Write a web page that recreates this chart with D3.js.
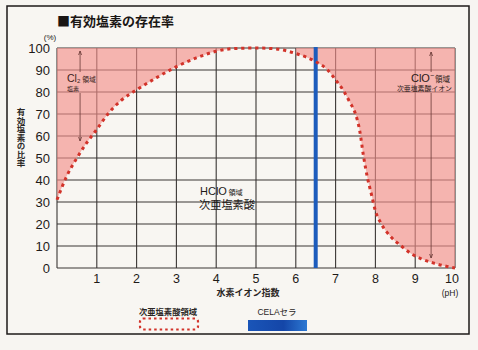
<!DOCTYPE html>
<html><head><meta charset="utf-8">
<script src="https://cdn.jsdelivr.net/npm/d3@7"></script>
<style>
html,body{margin:0;padding:0;background:#f7f5f1;}
svg{display:block;}
text{font-family:"Liberation Sans","Noto Sans CJK JP",sans-serif;}
.jp{font-family:"Noto Sans CJK JP",sans-serif;}
</style></head><body>
<div id="chart"></div>
<script>
const phValues = [0, 0.25, 0.5, 0.75, 1, 1.3, 1.6, 2, 2.5, 3, 3.5, 4, 4.5, 5, 5.5, 6, 6.5, 6.8, 7, 7.2, 7.35, 7.5, 7.6, 7.7, 7.8, 7.9, 8, 8.15, 8.4, 8.65, 8.9, 9.15, 9.45, 9.8, 10];
const hclo = [31, 42, 50, 57, 63, 70.5, 76, 81, 86.5, 91.5, 95.5, 98.5, 99.8, 100, 99.6, 97.5, 93.8, 90, 85.5, 80.5, 75.6, 70, 63, 51, 41, 33.5, 26, 20, 14, 10, 6.5, 4.2, 2.3, 0.7, 0];
const xTicks = [1, 2, 3, 4, 5, 6, 7, 8, 9, 10];
const yTicks = [0, 10, 20, 30, 40, 50, 60, 70, 80, 90, 100];
const celaPH = 6.5;
const cl2Range = [0, 4.3];
const cloRange = [6.0, 10];

const W = 478, H = 350;
const svg = d3.select("#chart").append("svg").attr("width", W).attr("height", H);

svg.append("rect").attr("x", 7).attr("y", 6).attr("width", 462).attr("height", 328)
  .attr("fill", "#f8f6f2").attr("stroke", "#1e1a18").attr("stroke-width", 1.5);

const x = d3.scaleLinear().domain([0, 10]).range([57, 455]);
const y = d3.scaleLinear().domain([0, 100]).range([268, 48]);
const data = phValues.map((p, i) => ({p, v: hclo[i]}));

// grid
const g = svg.append("g");
g.selectAll(".hg").data(yTicks).join("line")
  .attr("x1", x(0)).attr("x2", x(10)).attr("y1", d => y(d)).attr("y2", d => y(d))
  .attr("stroke", "#3a3634").attr("stroke-width", 1.1);
g.selectAll(".vg").data([0].concat(xTicks)).join("line")
  .attr("y1", y(0)).attr("y2", y(100)).attr("x1", d => x(d)).attr("x2", d => x(d))
  .attr("stroke", "#3a3634").attr("stroke-width", 1.1);

// pink regions
const defs = svg.append("defs");
defs.append("clipPath").attr("id", "clipL").append("rect")
  .attr("x", x(cl2Range[0])).attr("y", y(100)).attr("width", x(cl2Range[1]) - x(cl2Range[0])).attr("height", y(0) - y(100));
defs.append("clipPath").attr("id", "clipR").append("rect")
  .attr("x", x(cloRange[0])).attr("y", y(100)).attr("width", x(cloRange[1]) - x(cloRange[0])).attr("height", y(0) - y(100));
const area = d3.area().x(d => x(d.p)).y0(y(100)).y1(d => y(d.v)).curve(d3.curveMonotoneX);
["clipL", "clipR"].forEach(id => {
  svg.append("path").datum(data).attr("d", area).attr("clip-path", `url(#${id})`)
    .attr("fill", "#f28e8a").attr("opacity", 0.64);
});

// CELA line
svg.append("line").attr("x1", x(celaPH)).attr("x2", x(celaPH)).attr("y1", y(100) - 1).attr("y2", y(0))
  .attr("stroke", "#1d5cbc").attr("stroke-width", 4);

// curve
const line = d3.line().x(d => x(d.p)).y(d => y(d.v)).curve(d3.curveMonotoneX);
svg.append("path").datum(data).attr("d", line).attr("fill", "none")
  .attr("stroke", "#d2332a").attr("stroke-width", 3).attr("stroke-dasharray", "3.2,3.8");

// axes tick labels
svg.selectAll(".yt").data(yTicks).join("text")
  .attr("x", 50).attr("y", d => y(d) + 5).attr("text-anchor", "end")
  .attr("font-size", 13).attr("fill", "#1e1a18").text(d => d);
svg.selectAll(".xt").data(xTicks).join("text")
  .attr("x", d => x(d) - (d === 10 ? 3 : 0)).attr("y", 283).attr("text-anchor", "middle")
  .attr("font-size", 12.5).attr("fill", "#1e1a18").text(d => d);

svg.append("text").attr("x", 50).attr("y", 39.5).attr("text-anchor", "middle")
  .attr("font-size", 8).attr("fill", "#1e1a18").text("(%)");
svg.append("text").attr("x", 450).attr("y", 296).attr("text-anchor", "middle")
  .attr("font-size", 8.5).attr("fill", "#1e1a18").text("(pH)");

// title
svg.append("text").attr("class", "jp").attr("x", 57).attr("y", 26)
  .attr("font-size", 13).attr("font-weight", "bold").attr("fill", "#1a1614").text("■有効塩素の存在率");

// y axis title vertical
svg.append("text").attr("class", "jp").attr("x", 21).attr("y", 108)
  .attr("font-size", 8.5).attr("font-weight", "bold").attr("fill", "#2a2624")
  .style("writing-mode", "vertical-rl").text("有効塩素の比率");

// x axis title
svg.append("text").attr("class", "jp").attr("x", 248).attr("y", 296).attr("text-anchor", "middle")
  .attr("font-size", 9).attr("font-weight", "bold").attr("fill", "#2a2624").text("水素イオン指数");

// annotations: arrows
function arrow(xp, segs) {
  segs.forEach(s => svg.append("line").attr("x1", xp).attr("x2", xp).attr("y1", s[0]).attr("y2", s[1])
    .attr("stroke", "#6a3a36").attr("stroke-width", 0.8));
  const top = segs[0][0], bot = segs[segs.length - 1][1];
  svg.append("path").attr("d", `M${xp - 1.5},${top + 4}L${xp},${top}L${xp + 1.5},${top + 4}`)
    .attr("fill", "none").attr("stroke", "#6a3a36").attr("stroke-width", 0.8);
  svg.append("path").attr("d", `M${xp - 1.5},${bot - 4}L${xp},${bot}L${xp + 1.5},${bot - 4}`)
    .attr("fill", "none").attr("stroke", "#6a3a36").attr("stroke-width", 0.8);
}
arrow(x(0.58), [[51, 72], [93, 141]]);
arrow(x(9.4), [[52, 72], [93, 258]]);

// Cl2 label
const cl2 = svg.append("text").attr("x", 67).attr("y", 81.5).attr("fill", "#3a2220");
cl2.append("tspan").attr("font-size", 10.5).text("Cl");
cl2.append("tspan").attr("font-size", 6).attr("dy", 1.5).text("2");
cl2.append("tspan").attr("class", "jp").attr("font-size", 6.8).attr("dy", -1.5).attr("dx", 2).text("領域");
svg.append("text").attr("class", "jp").attr("x", 67).attr("y", 90.5).attr("font-size", 6).attr("fill", "#3a2220").text("塩素");

// ClO- label
const clo = svg.append("text").attr("x", 450).attr("y", 82).attr("text-anchor", "end").attr("fill", "#2a1a18");
clo.append("tspan").attr("font-size", 11).text("ClO");
clo.append("tspan").attr("font-size", 7).attr("dy", -4).text("−");
clo.append("tspan").attr("class", "jp").attr("font-size", 7.5).attr("dy", 4).attr("dx", 1).text("領域");
svg.append("text").attr("class", "jp").attr("x", 452).attr("y", 91).attr("text-anchor", "end")
  .attr("font-size", 6.9).attr("fill", "#2a1a18").text("次亜塩素酸イオン");

// HClO label
const hl = svg.append("text").attr("x", 200).attr("y", 194.5).attr("fill", "#1e1a18");
hl.append("tspan").attr("font-size", 11).text("HClO");
hl.append("tspan").attr("class", "jp").attr("font-size", 7.2).attr("dx", 1.5).text("領域");
svg.append("text").attr("class", "jp").attr("x", 199).attr("y", 208.5)
  .attr("font-size", 11.2).attr("fill", "#1e1a18").text("次亜塩素酸");

// legend
svg.append("text").attr("class", "jp").attr("x", 168).attr("y", 315).attr("text-anchor", "middle")
  .attr("font-size", 8.3).attr("font-weight", "bold").attr("fill", "#2a2624").text("次亜塩素酸領域");
svg.append("rect").attr("x", 140).attr("y", 318.5).attr("width", 58).attr("height", 11).attr("rx", 3)
  .attr("fill", "none").attr("stroke", "#d2332a").attr("stroke-width", 2.2).attr("stroke-dasharray", "2.5,3");
svg.append("text").attr("x", 277).attr("y", 315).attr("text-anchor", "middle")
  .attr("font-size", 8.5).attr("fill", "#2a2624").text("CELAセラ");
const grad = defs.append("linearGradient").attr("id", "bl").attr("x1", 0).attr("x2", 1).attr("y1", 0).attr("y2", 0);
grad.append("stop").attr("offset", 0).attr("stop-color", "#1a55b8");
grad.append("stop").attr("offset", 0.6).attr("stop-color", "#1446a8");
grad.append("stop").attr("offset", 1).attr("stop-color", "#2d78d2");
svg.append("rect").attr("x", 248).attr("y", 320).attr("width", 59).attr("height", 11).attr("fill", "url(#bl)");
</script>
</body></html>
